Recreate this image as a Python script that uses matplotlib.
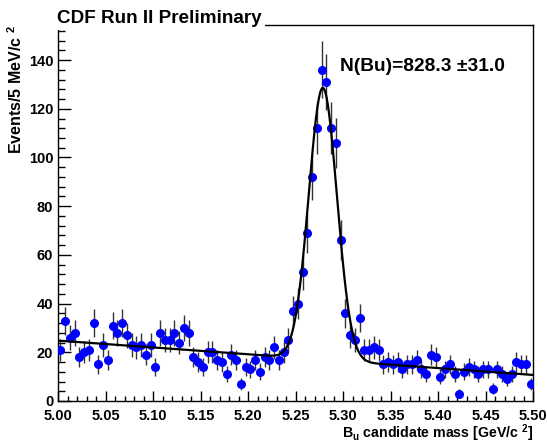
import matplotlib
matplotlib.use("Agg")
import matplotlib.pyplot as plt
import numpy as np
from matplotlib.ticker import MultipleLocator, FormatStrFormatter

# B_u candidate mass histogram, 100 bins of 5 MeV from 5.00 to 5.50 GeV
mass_lo = 5.00
mass_hi = 5.50
bin_width = 0.005
counts = [21, 33, 26, 28, 18, 20, 21, 32, 15, 23,
          17, 31, 28, 32, 27, 23, 22, 23, 19, 23,
          14, 28, 25, 25, 28, 24, 30, 28, 18, 16,
          14, 20, 20, 17, 16, 11, 19, 17, 7, 14,
          13, 17, 12, 18, 17, 22, 17, 20, 25, 37,
          40, 53, 69, 92, 112, 136, 131, 112, 106, 66,
          36, 27, 25, 34, 21, 21, 22, 21, 15, 16,
          15, 16, 13, 15, 15, 17, 13, 11, 19, 18,
          10, 13, 15, 11, 3, 12, 14, 13, 11, 13,
          13, 5, 13, 11, 9, 11, 16, 15, 15, 7]

# fit result: gaussian signal + linear background
n_signal = 828.3
n_signal_err = 31.0
peak_mean = 5.2788
peak_sigma = 0.0148
bkg_at_lo = 24.8
bkg_slope = -28.2   # events per bin per GeV

plt.rcParams['font.family'] = ['Liberation Sans', 'DejaVu Sans']
plt.rcParams['font.weight'] = 'bold'
plt.rcParams['mathtext.default'] = 'regular'

counts = np.array(counts, dtype=float)
edges = np.arange(len(counts) + 1) * bin_width + mass_lo
centers = 0.5 * (edges[:-1] + edges[1:])

fig = plt.figure(figsize=(5.47, 4.43), dpi=100)
ax = fig.add_axes([58 / 547, 1 - 401 / 443, 475 / 547, 376 / 443])

ax.errorbar(centers, counts, yerr=np.sqrt(counts), fmt='o', color='#0000ff',
            ms=5.5, mec='#0000ff', ecolor='#333333', elinewidth=1.0,
            capsize=0, zorder=3)

xf = np.linspace(mass_lo, mass_hi, 600)
amp = n_signal * bin_width / (peak_sigma * np.sqrt(2 * np.pi))
fit = bkg_at_lo + bkg_slope * (xf - mass_lo) + amp * np.exp(-0.5 * ((xf - peak_mean) / peak_sigma) ** 2)
ax.plot(xf, fit, color='black', lw=1.6, zorder=4)

ax.set_xlim(mass_lo, mass_hi)
ax.set_ylim(0, 154.4)

ax.xaxis.set_major_locator(MultipleLocator(0.05))
ax.xaxis.set_minor_locator(MultipleLocator(0.01))
ax.yaxis.set_major_locator(MultipleLocator(20))
ax.yaxis.set_minor_locator(MultipleLocator(4))
ax.tick_params(axis='x', which='major', direction='in', length=7.5, width=1, pad=6, labelsize=10.5)
ax.tick_params(axis='x', which='minor', direction='in', length=3.8, width=1)
ax.tick_params(axis='y', which='major', direction='in', length=9.5, width=1, pad=3.5, labelsize=10.5)
ax.tick_params(axis='y', which='minor', direction='in', length=4.8, width=1)
ax.xaxis.set_major_formatter(FormatStrFormatter('%.2f'))
for s in ax.spines.values():
    s.set_linewidth(1.0)

ax.set_xlabel(r"B$_{u}$ candidate mass [GeV/c $^{2}$]", fontsize=10.2, fontweight='bold')
ax.xaxis.set_label_coords(1.0, -0.058)
ax.xaxis.label.set_horizontalalignment('right')
ax.set_ylabel(r"Events/5 MeV/c $^{2}$", fontsize=11.5, fontweight='bold')
ax.yaxis.set_label_coords(-33 / 475, 1.0)
ax.yaxis.label.set_horizontalalignment('right')

ax.text(0.594, 0.878, f"N(Bu)={n_signal:.1f} \u00b1{n_signal_err:.1f}", transform=ax.transAxes,
        fontsize=13.8, fontweight='bold', ha='left', va='baseline')

fig.text(57 / 547, 1 - 22.7 / 443, "CDF Run II Preliminary", fontsize=13.6, fontweight='bold',
         ha='left', va='baseline',
         bbox=dict(facecolor='white', edgecolor='none', pad=2.5))

fig.savefig("out.png", dpi=100)
